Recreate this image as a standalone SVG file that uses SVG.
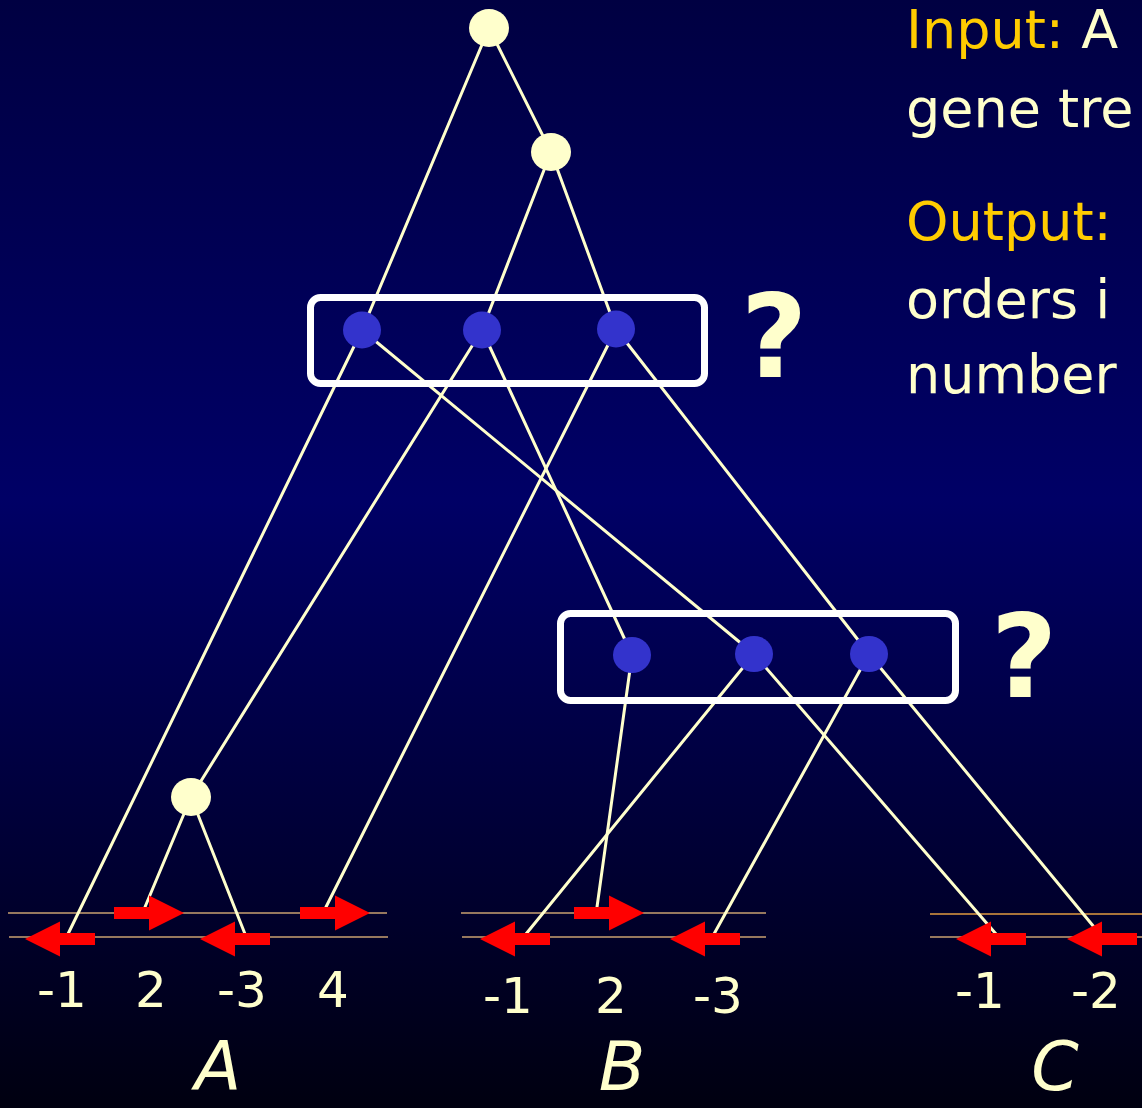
<svg xmlns="http://www.w3.org/2000/svg" xmlns:xlink="http://www.w3.org/1999/xlink" width="1142" height="1108" viewBox="0 0 1142 1108">
<defs>
<linearGradient id="bg" x1="0" y1="0" x2="0" y2="1">
<stop offset="0" stop-color="#000042"/>
<stop offset="0.45" stop-color="#000066"/>
<stop offset="1" stop-color="#000010"/>
</linearGradient>
<path id="la" d="M0,0 L35,-17.5 L35,-6 L70,-6 L70,6 L35,6 L35,17.5 Z" fill="#FF0000"/>
<path id="ra" d="M0,-6 L35,-6 L35,-17.5 L70,0 L35,17.5 L35,6 L0,6 Z" fill="#FF0000"/>
<style>
.edge{stroke:#FFFFCC;stroke-width:3;fill:none;stroke-linecap:round}
.gn{fill:#FFFFCC}
.sn{fill:#3333CC}
.box{fill:none;stroke:#FFFFFF;stroke-width:7}
.chr{stroke:#C8A070;stroke-width:1.3}
.lbl{font-family:"DejaVu Sans",sans-serif;font-size:50px;fill:#FFFFCC;text-anchor:middle}
.sp{font-family:"DejaVu Sans",sans-serif;font-size:68px;font-style:italic;fill:#FFFFCC;text-anchor:middle}
.q{font-family:"DejaVu Sans",sans-serif;font-size:115px;font-weight:bold;fill:#FFFFCC;text-anchor:middle}
.txt{font-family:"DejaVu Sans",sans-serif;font-size:54px;fill:#FFFFCC}
.hl{fill:#FFCC00}
</style>
</defs>
<rect width="1142" height="1108" fill="url(#bg)"/>

<g id="chromosomes">
<line class="chr" x1="8" y1="913" x2="387" y2="913"/>
<line class="chr" x1="9" y1="937" x2="388" y2="937"/>
<line class="chr" x1="461" y1="913" x2="766" y2="913"/>
<line class="chr" x1="462" y1="937" x2="766" y2="937"/>
<line class="chr" x1="930" y1="914" x2="1142" y2="914" style="stroke:#E09A40"/>
<line class="chr" x1="930" y1="937" x2="1142" y2="937"/>
</g>

<g id="connectors">
<line class="edge" x1="489" y1="28" x2="362" y2="330"/>
<line class="edge" x1="489" y1="28" x2="551" y2="152"/>
<line class="edge" x1="551" y1="152" x2="482" y2="330"/>
<line class="edge" x1="551" y1="152" x2="616" y2="329"/>
<line class="edge" x1="362" y1="330" x2="68" y2="934"/>
<line class="edge" x1="362" y1="330" x2="754" y2="654"/>
<line class="edge" x1="482" y1="330" x2="191" y2="797"/>
<line class="edge" x1="482" y1="330" x2="632" y2="655"/>
<line class="edge" x1="616" y1="329" x2="326" y2="907"/>
<line class="edge" x1="616" y1="329" x2="869" y2="654"/>
<line class="edge" x1="191" y1="797" x2="145" y2="907"/>
<line class="edge" x1="191" y1="797" x2="245" y2="934"/>
<line class="edge" x1="632" y1="655" x2="597" y2="907"/>
<line class="edge" x1="754" y1="654" x2="526" y2="934"/>
<line class="edge" x1="754" y1="654" x2="996" y2="934"/>
<line class="edge" x1="869" y1="654" x2="714" y2="934"/>
<line class="edge" x1="869" y1="654" x2="1094" y2="927"/>
</g>

<g id="genes">
<use xlink:href="#la" x="25" y="939"/>
<use xlink:href="#ra" x="114" y="913"/>
<use xlink:href="#la" x="200" y="939"/>
<use xlink:href="#ra" x="300" y="913"/>
<use xlink:href="#la" x="480" y="939"/>
<use xlink:href="#ra" x="574" y="913"/>
<use xlink:href="#la" x="670" y="939"/>
<use xlink:href="#la" x="956" y="939"/>
<use xlink:href="#la" x="1067" y="939"/>
</g>

<g id="box-top"><rect class="box" x="310.5" y="297.5" width="394" height="86" rx="10"/></g>
<g id="box-bottom"><rect class="box" x="560.5" y="613.5" width="395" height="87" rx="10"/></g>

<g id="root"><ellipse class="gn" cx="489" cy="28" rx="20" ry="19"/></g>
<g id="inner"><ellipse class="gn" cx="551" cy="152" rx="20" ry="19"/></g>
<g id="a-node"><ellipse class="gn" cx="191" cy="797" rx="20" ry="19"/></g>

<g id="t1"><ellipse class="sn" cx="362" cy="330" rx="19" ry="18.5"/></g>
<g id="t2"><ellipse class="sn" cx="482" cy="330" rx="19" ry="18.5"/></g>
<g id="t3"><ellipse class="sn" cx="616" cy="329" rx="19" ry="18.5"/></g>
<g id="b1"><ellipse class="sn" cx="632" cy="655" rx="19" ry="18"/></g>
<g id="b2"><ellipse class="sn" cx="754" cy="654" rx="19" ry="18"/></g>
<g id="b3"><ellipse class="sn" cx="869" cy="654" rx="19" ry="18"/></g>

<g id="question-marks">
<text class="q" x="774" y="377">?</text>
<text class="q" x="1024" y="697">?</text>
</g>

<g id="labels">
<text class="lbl" x="62" y="1007">-1</text>
<text class="lbl" x="151" y="1007">2</text>
<text class="lbl" x="242" y="1007">-3</text>
<text class="lbl" x="333" y="1007">4</text>
<text class="lbl" x="508" y="1013">-1</text>
<text class="lbl" x="611" y="1013">2</text>
<text class="lbl" x="718" y="1013">-3</text>
<text class="lbl" x="980" y="1008">-1</text>
<text class="lbl" x="1096" y="1008">-2</text>
<text class="sp" x="218" y="1090">A</text>
<text class="sp" x="622" y="1090">B</text>
<text class="sp" x="1055" y="1090">C</text>
</g>

<g id="description">
<text class="txt" x="906" y="48"><tspan class="hl">Input: </tspan>A</text>
<text class="txt" x="906" y="127">gene tre</text>
<text class="txt hl" x="906" y="240">Output:</text>
<text class="txt" x="906" y="318">orders i</text>
<text class="txt" x="906" y="393">number</text>
</g>
</svg>
